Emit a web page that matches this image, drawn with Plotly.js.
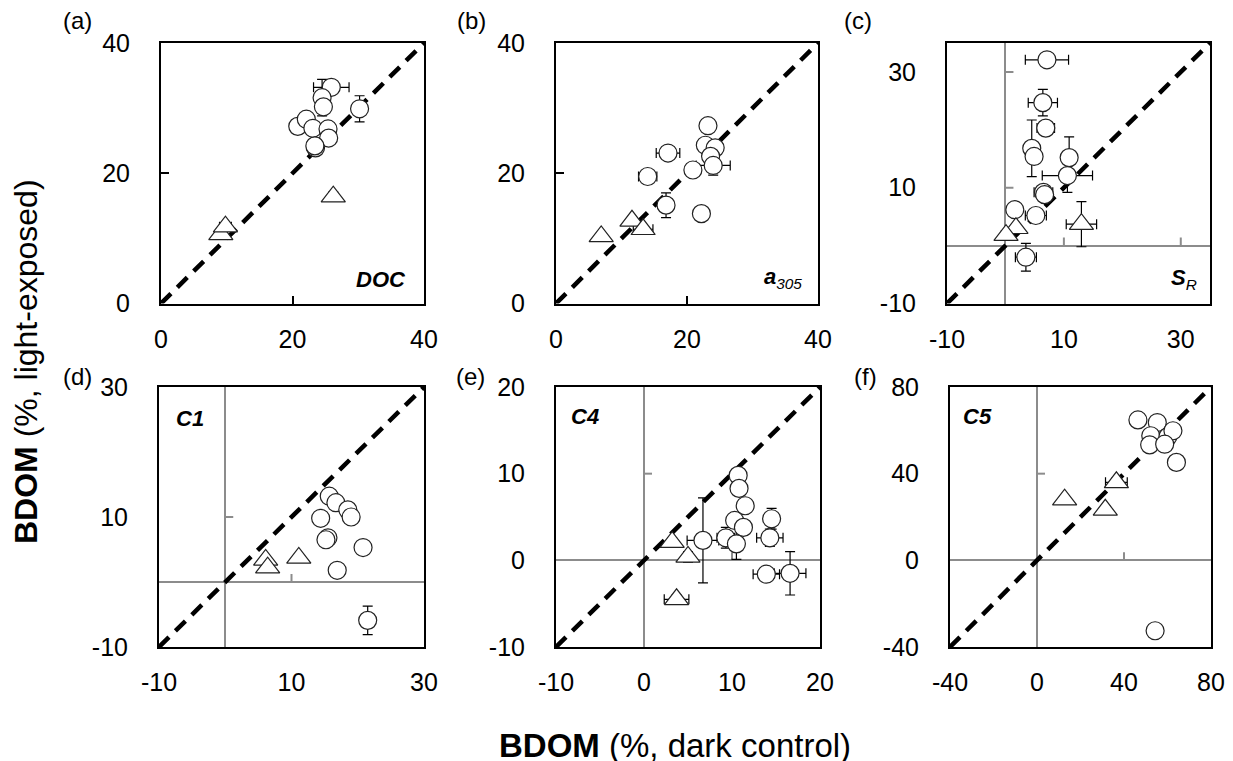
<!DOCTYPE html>
<html><head><meta charset="utf-8">
<script src="https://cdn.plot.ly/plotly-3.0.1.min.js"></script>
<style>html,body{margin:0;padding:0;background:#fff}#chart{width:1233px;height:761px}</style>
</head><body><div id="chart"></div>
<script>
// ---------- DATA ----------
// (a) DOC
const aCircX = [25.9, 24.5, 24.7, 30.2, 20.8, 22.1, 23.1, 25.4, 25.5, 23.5, 23.4];
const aCircY = [33.2, 31.6, 30.2, 29.9, 27.2, 28.3, 26.9, 26.8, 25.4, 23.9, 24.2];
const aCircXErr = [2.7, 0, 0, 0, 0, 0, 0, 0, 0, 0, 0];
const aCircYErr = [0, 2.8, 0, 2.0, 0, 0, 0, 1.0, 0, 0, 0];
const aTriX = [26.2, 9.1, 9.8];
const aTriY = [16.4, 10.6, 11.8];
const aTriXErr = [0, 0, 0.9];
const aTriYErr = [0.7, 0, 0.5];
// (b) a305
const bCircX = [23.2, 22.8, 24.3, 23.6, 24.0, 20.9, 17.1, 14.0, 16.8, 22.2];
const bCircY = [27.3, 24.3, 23.9, 22.6, 21.2, 20.5, 23.1, 19.5, 15.1, 13.8];
const bCircXErr = [0, 0, 0, 0, 2.6, 0, 1.8, 1.4, 0, 0];
const bCircYErr = [0, 0, 0, 0, 1.5, 0, 0, 0, 1.9, 0];
const bTriX = [6.9, 11.6, 13.3];
const bTriY = [10.3, 12.7, 11.4];
const bTriXErr = [0, 0, 1.5];
const bTriYErr = [0.5, 0.6, 0];
// (c) SR
const cCircX = [7.1, 6.4, 6.9, 4.5, 4.9, 10.9, 10.6, 6.5, 6.7, 5.2, 1.6, 3.5];
const cCircY = [32.1, 24.7, 20.3, 16.8, 15.4, 15.2, 12.1, 9.2, 8.8, 5.2, 6.2, -2.0];
const cCircXErr = [3.7, 2.5, 1.5, 0, 0, 0, 4.3, 1.6, 0, 1.8, 0, 1.8];
const cCircYErr = [0, 2.3, 0, 4.9, 0, 3.6, 2.9, 0, 0, 0, 0, 2.4];
const cTriX = [1.8, 0.1, 13.0];
const cTriY = [3.0, 1.8, 3.7];
const cTriXErr = [0, 0.8, 2.6];
const cTriYErr = [0.5, 0, 3.9];
// (d) C1
const dCircX = [15.7, 16.7, 18.5, 19.0, 14.4, 15.5, 15.2, 20.8, 16.9, 21.5];
const dCircY = [13.2, 12.2, 11.1, 10.0, 9.8, 6.8, 6.5, 5.3, 1.8, -5.9];
const dCircXErr = [0, 0, 0, 0, 0, 0, 0, 0, 0, 0];
const dCircYErr = [0, 0, 0, 0, 0, 0, 0, 0, 0, 2.2];
const dTriX = [6.1, 6.4, 11.1];
const dTriY = [3.4, 2.2, 3.7];
const dTriXErr = [0, 0, 0];
const dTriYErr = [0, 0, 0.5];
// (e) C4
const eCircX = [10.7, 10.8, 11.5, 10.3, 11.3, 9.3, 10.5, 6.7, 14.5, 14.3, 13.9, 16.6];
const eCircY = [9.8, 8.3, 6.3, 4.6, 3.8, 2.6, 1.9, 2.3, 4.8, 2.6, -1.6, -1.5];
const eCircXErr = [0, 0, 0, 0, 0, 1.0, 0, 1.8, 0, 1.5, 1.5, 1.8];
const eCircYErr = [0, 0, 0, 0, 0, 1.2, 1.8, 4.9, 1.2, 1.0, 0, 2.5];
const eTriX = [3.2, 5.0, 3.7];
const eTriY = [2.1, 0.4, -4.5];
const eTriXErr = [0, 0, 1.4];
const eTriYErr = [0.5, 0.6, 0.5];
// (f) C5
const fCircX = [46.4, 55.3, 52.3, 60.2, 62.5, 51.8, 58.7, 64.1, 54.3];
const fCircY = [64.8, 63.6, 57.5, 57.1, 59.8, 53.3, 53.6, 45.2, -32.5];
const fCircXErr = [0, 0, 0, 0, 3, 0, 0, 0, 0];
const fCircYErr = [0, 0, 0, 0, 0, 0, 0, 2.0, 0];
const fTriX = [12.7, 36.5, 31.4];
const fTriY = [28.0, 36.0, 23.3];
const fTriXErr = [0, 5.0, 0];
const fTriYErr = [1.5, 2.0, 2.0];

// axis ranges and ticks
const rangeA = [0, 40],   ticksA = [0, 20, 40];
const rangeB = [0, 40],   ticksB = [0, 20, 40];
const rangeC = [-10, 35], ticksC = [-10, 10, 30];
const rangeD = [-10, 30], ticksD = [-10, 10, 30];
const rangeE = [-10, 20], ticksE = [-10, 0, 10, 20];
const rangeF = [-40, 80], ticksF = [-40, 0, 40, 80];

const panelLetters = ['(a)', '(b)', '(c)', '(d)', '(e)', '(f)'];
const panelNames = ['<b><i>DOC</i></b>', '<b><i>a</i></b><sub><i>305</i></sub>',
  '<b><i>S</i></b><sub><i>R</i></sub>', '<b><i>C1</i></b>', '<b><i>C4</i></b>', '<b><i>C5</i></b>'];
const xTitle = '<b>BDOM</b> (%, dark control)';
const yTitle = '<b>BDOM</b> (%, light-exposed)';

// ---------- LAYOUT GEOMETRY (pixels) ----------
const W = 1233, H = 761;
const FONT = 'Liberation Sans, Arial, sans-serif';
const panels = [
  {circ:[aCircX,aCircY,aCircXErr,aCircYErr], tri:[aTriX,aTriY,aTriXErr,aTriYErr], range:rangeA, ticks:ticksA, box:[161,424,43,303.5], cross:false},
  {circ:[bCircX,bCircY,bCircXErr,bCircYErr], tri:[bTriX,bTriY,bTriXErr,bTriYErr], range:rangeB, ticks:ticksB, box:[556,818,43,303.5], cross:false},
  {circ:[cCircX,cCircY,cCircXErr,cCircYErr], tri:[cTriX,cTriY,cTriXErr,cTriYErr], range:rangeC, ticks:ticksC, box:[947,1210,43,303.5], cross:true},
  {circ:[dCircX,dCircY,dCircXErr,dCircYErr], tri:[dTriX,dTriY,dTriXErr,dTriYErr], range:rangeD, ticks:ticksD, box:[159,424,387,647], cross:true},
  {circ:[eCircX,eCircY,eCircXErr,eCircYErr], tri:[eTriX,eTriY,eTriXErr,eTriYErr], range:rangeE, ticks:ticksE, box:[556,820,387,647], cross:true},
  {circ:[fCircX,fCircY,fCircXErr,fCircYErr], tri:[fTriX,fTriY,fTriXErr,fTriYErr], range:rangeF, ticks:ticksF, box:[950,1211,387,647], cross:true}
];
const letterPos = [[77,21],[471,21],[858,21],[77,376],[470,376],[865,376]];
const namePos = [[381,279,'center'],[783,278,'center'],[1184,279,'center'],[190,419,'center'],[585,416,'center'],[977,416,'center']];

const GRAY = '#8c8c8c';
const traces = [], shapes = [], annotations = [];
const layout = {
  width: W, height: H, margin:{l:0,r:0,t:0,b:0},
  paper_bgcolor:'#fff', plot_bgcolor:'#fff', showlegend:false,
  font:{family:FONT, color:'#000'}
};

panels.forEach((p, i) => {
  const n = i + 1;
  const xa = 'x' + (n === 1 ? '' : n), ya = 'y' + (n === 1 ? '' : n);
  const xKey = 'xaxis' + (n === 1 ? '' : n), yKey = 'yaxis' + (n === 1 ? '' : n);
  const [x0, x1, y0, y1] = p.box;
  const common = {
    range: p.range, tickmode:'array', tickvals: p.ticks, ticktext: p.ticks.map(v => String(v)),
    showgrid:false, zeroline:p.cross, zerolinecolor:GRAY, zerolinewidth:2,
    showline:true, linecolor:'#000', linewidth:2, mirror:true,
    ticks: p.cross ? '' : 'inside', ticklen:8, tickwidth:2, tickcolor:'#000',
    tickfont:{family:FONT, size:25, color:'#000'}, fixedrange:true
  };
  layout[xKey] = Object.assign({}, common, {domain:[x0/W, x1/W], anchor:ya, ticklabelstandoff:12});
  layout[yKey] = Object.assign({}, common, {domain:[1 - y1/H, 1 - y0/H], anchor:xa, ticklabelstandoff:24});

  // 1:1 line
  traces.push({x:p.range, y:p.range, xaxis:xa, yaxis:ya, mode:'lines', hoverinfo:'skip',
    line:{color:'#000', width:4.5, dash:'14px,9px'}});
  // circles
  traces.push({x:p.circ[0], y:p.circ[1], xaxis:xa, yaxis:ya, mode:'markers', cliponaxis:false,
    marker:{symbol:'circle', size:18, color:'#fff', line:{color:'#222', width:1.2}},
    error_x:{type:'data', array:p.circ[2], visible:true, color:'#000', thickness:1.2, width:5},
    error_y:{type:'data', array:p.circ[3], visible:true, color:'#000', thickness:1.2, width:5}});
  // triangles
  traces.push({x:p.tri[0], y:p.tri[1], xaxis:xa, yaxis:ya, mode:'markers', cliponaxis:false,
    marker:{symbol:'triangle-up', size:21, color:'#fff', line:{color:'#222', width:1.2}},
    error_x:{type:'data', array:p.tri[2], visible:true, color:'#000', thickness:1.2, width:5},
    error_y:{type:'data', array:p.tri[3], visible:true, color:'#000', thickness:1.2, width:5}});

  // tick marks on the crossing (zero) axes
  if (p.cross) {
    p.ticks.filter(t => t !== 0 && t !== p.range[0] && t !== p.range[1]).forEach(t => {
      shapes.push({type:'line', xref:xa, yref:ya, x0:t, x1:t, ysizemode:'pixel', yanchor:0, y0:0, y1:8,
        line:{color:GRAY, width:2}, layer:'below'});
      shapes.push({type:'line', xref:xa, yref:ya, y0:t, y1:t, xsizemode:'pixel', xanchor:0, x0:0, x1:8,
        line:{color:GRAY, width:2}, layer:'below'});
    });
  }

  annotations.push({xref:'paper', yref:'paper', x:letterPos[i][0]/W, y:1 - letterPos[i][1]/H,
    xanchor:'center', yanchor:'middle', showarrow:false, text:panelLetters[i],
    font:{family:FONT, size:24, color:'#000'}});
  annotations.push({xref:'paper', yref:'paper', x:namePos[i][0]/W, y:1 - namePos[i][1]/H,
    xanchor:'center', yanchor:'middle', showarrow:false, text:panelNames[i],
    font:{family:FONT, size:22, color:'#000'}});
});

annotations.push({xref:'paper', yref:'paper', x:675/W, y:1 - 745/H, xanchor:'center', yanchor:'middle',
  showarrow:false, text:xTitle, font:{family:FONT, size:33, color:'#000'}});
annotations.push({xref:'paper', yref:'paper', x:26/W, y:1 - 362/H, xanchor:'center', yanchor:'middle',
  showarrow:false, textangle:-90, text:yTitle, font:{family:FONT, size:32, color:'#000'}});

layout.shapes = shapes;
layout.annotations = annotations;

Plotly.newPlot('chart', traces, layout, {displayModeBar:false, staticPlot:true});
</script>
</body></html>
